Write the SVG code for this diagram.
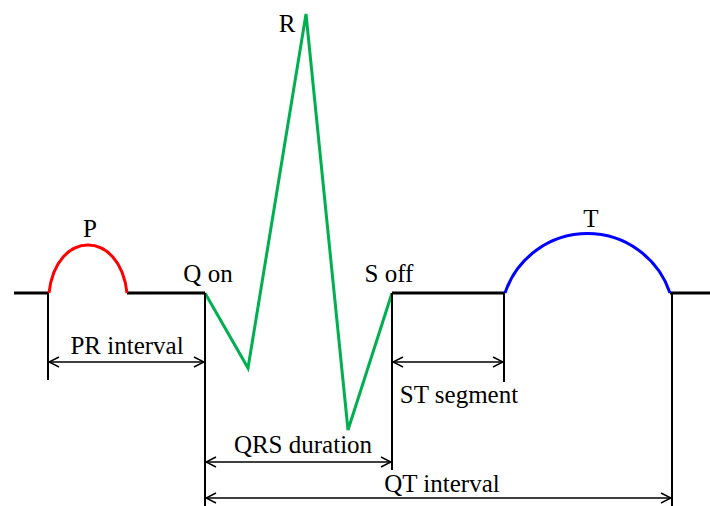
<svg xmlns="http://www.w3.org/2000/svg" width="710" height="506" viewBox="0 0 710 506">
<defs>
<marker id="ah" viewBox="0 0 12 12" refX="11" refY="6" markerWidth="12" markerHeight="12" markerUnits="userSpaceOnUse" orient="auto-start-reverse">
<path d="M1,1 L11,6 L1,11" fill="none" stroke="#000" stroke-width="1.5"/>
</marker>
<style>
text{font-family:"Liberation Serif","DejaVu Serif",serif;font-size:25px;fill:#000}
.base{stroke:#000;stroke-width:3;fill:none}
.tick{stroke:#000;stroke-width:2;fill:none}
.dim{stroke:#000;stroke-width:1.5;fill:none;marker-start:url(#ah);marker-end:url(#ah)}
</style>
</defs>
<rect width="710" height="506" fill="#fff"/>
<g id="baseline">
<path class="base" d="M14,293 H49 M127,293 H205 M392,293 H505 M670,293 H710"/>
</g>
<g id="P">
<path d="M49,293 C56,229 120,229 127,293" fill="none" stroke="#ff0000" stroke-width="3"/>
<text x="90" y="237" text-anchor="middle">P</text>
</g>
<g id="QRS">
<polyline points="205,293 248,368 306,14 348,430 392,293" fill="none" stroke="#00b050" stroke-width="3" stroke-linejoin="miter"/>
<text x="208" y="282" text-anchor="middle">Q on</text>
<text x="287" y="32" text-anchor="middle">R</text>
<text x="389" y="282" text-anchor="middle">S off</text>
</g>
<g id="T">
<path d="M505,293 A87 87 0 0 1 670,293" fill="none" stroke="#0000ff" stroke-width="3"/>
<text x="591" y="227" text-anchor="middle">T</text>
</g>
<g id="connectors">
<path class="tick" d="M48,293 V380 M205,293 V506 M392,293 V470 M504,293 V382 M672,293 V506"/>
<line class="dim" x1="49" y1="362" x2="204" y2="362"/>
<line class="dim" x1="393" y1="362" x2="503" y2="362"/>
<line class="dim" x1="206" y1="462" x2="391" y2="462"/>
<line class="dim" x1="206" y1="498" x2="671" y2="498"/>
</g>
<g id="labels">
<text x="127" y="354" text-anchor="middle">PR interval</text>
<text x="459" y="403" text-anchor="middle">ST segment</text>
<text x="303" y="453" text-anchor="middle">QRS duration</text>
<text x="442" y="492" text-anchor="middle">QT interval</text>
</g>
</svg>
